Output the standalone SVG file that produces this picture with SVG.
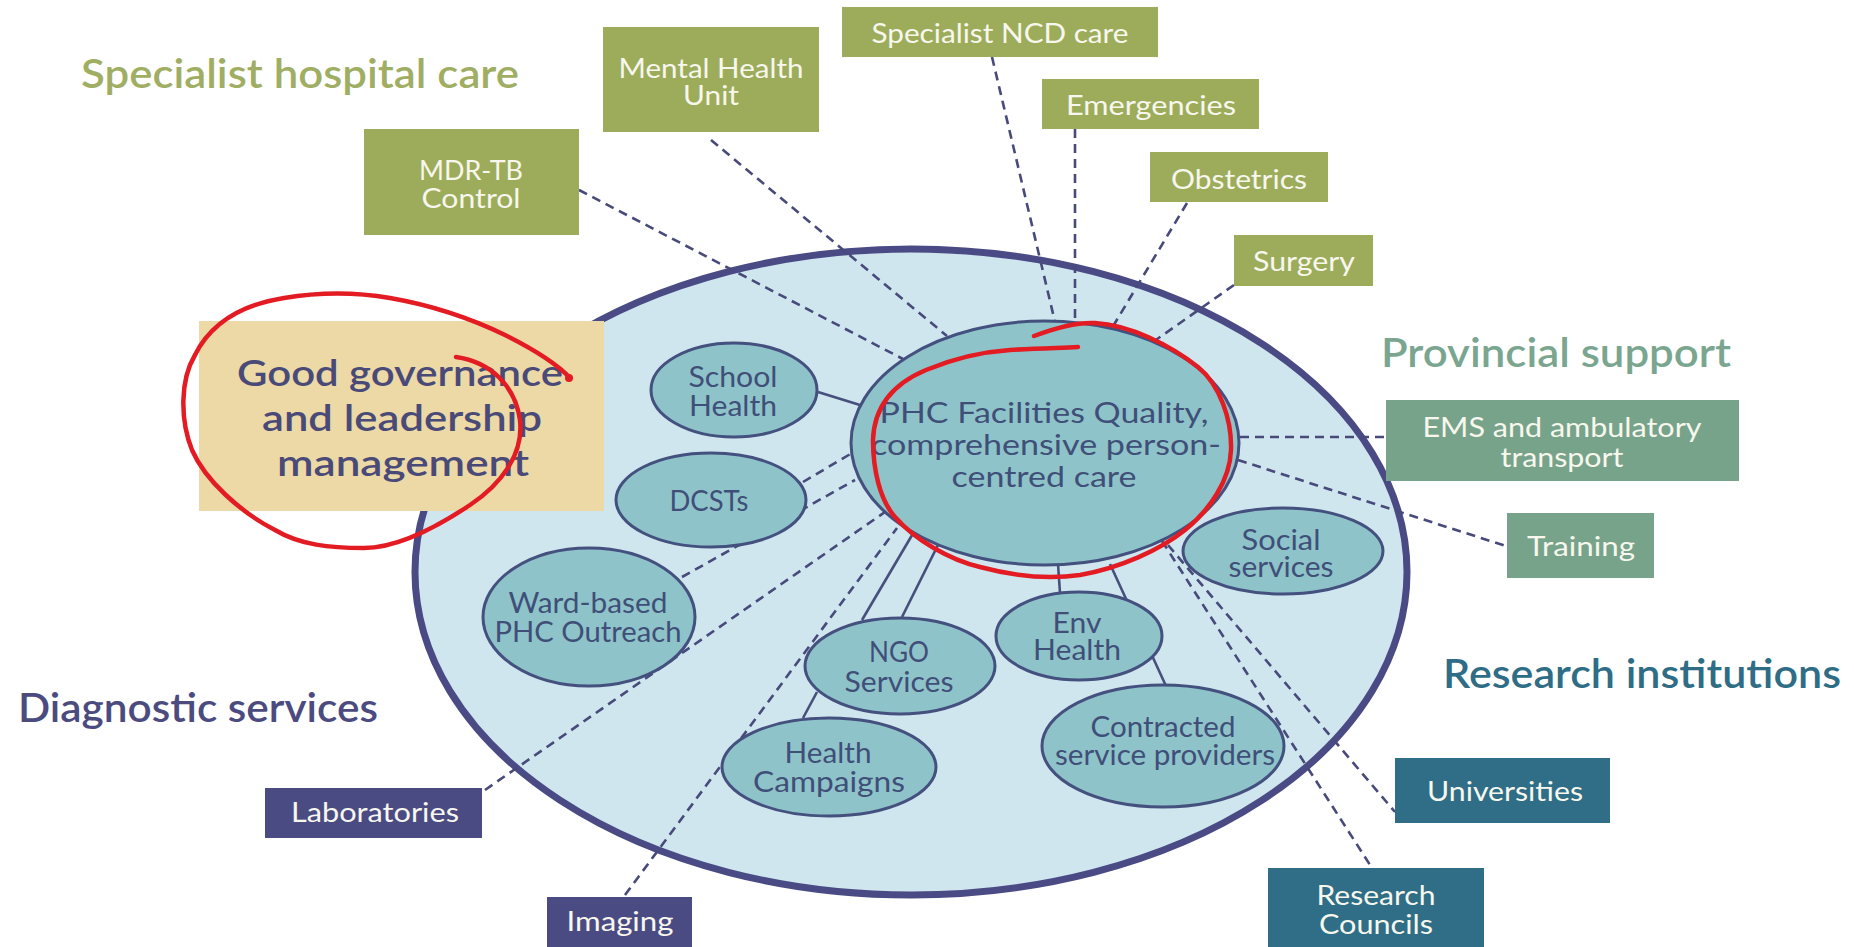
<svg xmlns="http://www.w3.org/2000/svg" width="1854" height="947" viewBox="0 0 1854 947">
<style>
.title{font-family:Lato,"Liberation Sans",sans-serif;font-size:40px;font-weight:600;text-anchor:start}
.gov{font-family:Lato,"Liberation Sans",sans-serif;font-size:37px;font-weight:600;fill:#4a4a78;text-anchor:middle}
.bt{font-family:Lato,"Liberation Sans",sans-serif;font-size:27px;fill:#f7f7ee;text-anchor:middle}
.it{font-family:Lato,"Liberation Sans",sans-serif;font-size:28px;fill:#3f4f78;text-anchor:middle}
.olive{fill:#9dac5a}
.sage{fill:#78a38b}
.teal{fill:#2f6e86}
.navy{fill:#4b4b83}
.inner{fill:#8fc3ca;stroke:#44507e;stroke-width:3}
.dash{fill:none;stroke:#474a7a;stroke-width:2.6;stroke-dasharray:9 6}
.solid{fill:none;stroke:#474f7c;stroke-width:2.6}
.red{fill:none;stroke:#e31b23;stroke-width:4.5;stroke-linecap:round;stroke-linejoin:round}
</style>
<rect width="1854" height="947" fill="#ffffff"/>

<g id="titles">
<text class="title" x="81" y="88" fill="#9fae62" textLength="438" lengthAdjust="spacingAndGlyphs">Specialist hospital care</text>
<text class="title" x="1381" y="367" fill="#7aa68f" textLength="350" lengthAdjust="spacingAndGlyphs">Provincial support</text>
<text class="title" x="1443" y="688" fill="#2e6d85" textLength="398" lengthAdjust="spacingAndGlyphs">Research institutions</text>
<text class="title" x="18" y="722" fill="#4b4b80" textLength="360" lengthAdjust="spacingAndGlyphs">Diagnostic services</text>
</g>

<g id="district">
<ellipse cx="911" cy="572" rx="496" ry="323" fill="#cfe6ef" stroke="#4a4a85" stroke-width="7"/>
</g>

<g id="connectors">
<line class="dash" x1="579" y1="190" x2="903" y2="359"/>
<line class="dash" x1="711" y1="140" x2="947" y2="336"/>
<line class="dash" x1="992" y1="57" x2="1055" y2="322"/>
<line class="dash" x1="1075" y1="129" x2="1075" y2="323"/>
<line class="dash" x1="1187" y1="203" x2="1112" y2="328"/>
<line class="dash" x1="1234" y1="285" x2="1153" y2="342"/>
<line class="dash" x1="1240" y1="437" x2="1386" y2="437"/>
<line class="dash" x1="1238" y1="460" x2="1506" y2="546"/>
<line class="dash" x1="1168" y1="545" x2="1395" y2="812"/>
<line class="dash" x1="1162" y1="541" x2="1372" y2="868"/>
<line class="dash" x1="485" y1="790" x2="885" y2="512"/>
<line class="dash" x1="682" y1="577" x2="855" y2="480"/>
<line class="dash" x1="803" y1="482" x2="852" y2="453"/>
<line class="dash" x1="625" y1="895" x2="897" y2="528"/>
<line class="solid" x1="818" y1="392" x2="860" y2="405"/>
<line class="solid" x1="862" y1="620" x2="918" y2="525"/>
<line class="solid" x1="902" y1="617" x2="938" y2="545"/>
<line class="solid" x1="817" y1="692" x2="803" y2="718"/>
<line class="solid" x1="1058" y1="564" x2="1060" y2="593"/>
<line class="solid" x1="1110" y1="564" x2="1166" y2="686"/>
</g>

<g id="phc">
<ellipse class="inner" cx="1045" cy="443" rx="194" ry="122"/>
<text class="it" font-size="31" x="1044" y="423" textLength="329" lengthAdjust="spacingAndGlyphs">PHC Facilities Quality,</text>
<text class="it" font-size="31" x="1046" y="455" textLength="350" lengthAdjust="spacingAndGlyphs">comprehensive person-</text>
<text class="it" font-size="31" x="1044" y="487" textLength="185" lengthAdjust="spacingAndGlyphs">centred care</text>
</g>

<g id="school-health">
<ellipse class="inner" cx="734" cy="390" rx="83" ry="47"/>
<text class="it" x="733" y="387" textLength="89" lengthAdjust="spacingAndGlyphs">School</text>
<text class="it" x="733" y="416" textLength="88" lengthAdjust="spacingAndGlyphs">Health</text>
</g>

<g id="dcsts">
<ellipse class="inner" cx="711" cy="500" rx="95" ry="47"/>
<text class="it" x="709" y="511" textLength="79" lengthAdjust="spacingAndGlyphs">DCSTs</text>
</g>

<g id="ward-based">
<ellipse class="inner" cx="589" cy="617" rx="106" ry="69"/>
<text class="it" x="588" y="613" textLength="159" lengthAdjust="spacingAndGlyphs">Ward-based</text>
<text class="it" x="588" y="642" textLength="187" lengthAdjust="spacingAndGlyphs">PHC Outreach</text>
</g>

<g id="social-services">
<ellipse class="inner" cx="1283" cy="551" rx="100" ry="43"/>
<text class="it" x="1281" y="550" textLength="79" lengthAdjust="spacingAndGlyphs">Social</text>
<text class="it" x="1281" y="577" textLength="105" lengthAdjust="spacingAndGlyphs">services</text>
</g>

<g id="env-health">
<ellipse class="inner" cx="1079" cy="636" rx="83" ry="44"/>
<text class="it" x="1077" y="633" textLength="49" lengthAdjust="spacingAndGlyphs">Env</text>
<text class="it" x="1077" y="660" textLength="88" lengthAdjust="spacingAndGlyphs">Health</text>
</g>

<g id="ngo-services">
<ellipse class="inner" cx="900" cy="666" rx="95" ry="48"/>
<text class="it" x="899" y="662" textLength="60" lengthAdjust="spacingAndGlyphs">NGO</text>
<text class="it" x="899" y="692" textLength="109" lengthAdjust="spacingAndGlyphs">Services</text>
</g>

<g id="health-campaigns">
<ellipse class="inner" cx="829" cy="767" rx="107" ry="49"/>
<text class="it" x="828" y="763" textLength="87" lengthAdjust="spacingAndGlyphs">Health</text>
<text class="it" x="829" y="792" textLength="152" lengthAdjust="spacingAndGlyphs">Campaigns</text>
</g>

<g id="contracted">
<ellipse class="inner" cx="1163" cy="746" rx="121" ry="61"/>
<text class="it" x="1163" y="737" textLength="145" lengthAdjust="spacingAndGlyphs">Contracted</text>
<text class="it" x="1165" y="765" textLength="220" lengthAdjust="spacingAndGlyphs">service providers</text>
</g>

<g id="mdr-tb">
<rect class="olive" x="364" y="129" width="215" height="106"/>
<text class="bt" x="471" y="180" textLength="104" lengthAdjust="spacingAndGlyphs">MDR-TB</text>
<text class="bt" x="471" y="208" textLength="99" lengthAdjust="spacingAndGlyphs">Control</text>
</g>

<g id="mental-health">
<rect class="olive" x="603" y="27" width="216" height="105"/>
<text class="bt" x="711" y="78" textLength="185" lengthAdjust="spacingAndGlyphs">Mental Health</text>
<text class="bt" x="711" y="105" textLength="56" lengthAdjust="spacingAndGlyphs">Unit</text>
</g>

<g id="ncd">
<rect class="olive" x="842" y="7" width="316" height="50"/>
<text class="bt" x="1000" y="43" textLength="257" lengthAdjust="spacingAndGlyphs">Specialist NCD care</text>
</g>

<g id="emergencies">
<rect class="olive" x="1042" y="79" width="217" height="50"/>
<text class="bt" x="1151" y="115" textLength="170" lengthAdjust="spacingAndGlyphs">Emergencies</text>
</g>

<g id="obstetrics">
<rect class="olive" x="1150" y="152" width="178" height="50"/>
<text class="bt" x="1239" y="189" textLength="136" lengthAdjust="spacingAndGlyphs">Obstetrics</text>
</g>

<g id="surgery">
<rect class="olive" x="1234" y="235" width="139" height="51"/>
<text class="bt" x="1304" y="271" textLength="102" lengthAdjust="spacingAndGlyphs">Surgery</text>
</g>

<g id="ems">
<rect class="sage" x="1386" y="400" width="353" height="81"/>
<text class="bt" x="1562" y="437" textLength="279" lengthAdjust="spacingAndGlyphs">EMS and ambulatory</text>
<text class="bt" x="1562" y="467" textLength="123" lengthAdjust="spacingAndGlyphs">transport</text>
</g>

<g id="training">
<rect class="sage" x="1507" y="513" width="147" height="65"/>
<text class="bt" x="1581" y="556" textLength="108" lengthAdjust="spacingAndGlyphs">Training</text>
</g>

<g id="universities">
<rect class="teal" x="1395" y="758" width="215" height="65"/>
<text class="bt" x="1505" y="801" textLength="156" lengthAdjust="spacingAndGlyphs">Universities</text>
</g>

<g id="research-councils">
<rect class="teal" x="1268" y="868" width="216" height="79"/>
<text class="bt" x="1376" y="905" textLength="119" lengthAdjust="spacingAndGlyphs">Research</text>
<text class="bt" x="1376" y="934" textLength="114" lengthAdjust="spacingAndGlyphs">Councils</text>
</g>

<g id="laboratories">
<rect class="navy" x="265" y="788" width="217" height="50"/>
<text class="bt" x="375" y="822" textLength="168" lengthAdjust="spacingAndGlyphs">Laboratories</text>
</g>

<g id="imaging">
<rect class="navy" x="547" y="897" width="145" height="50"/>
<text class="bt" x="620" y="931" textLength="107" lengthAdjust="spacingAndGlyphs">Imaging</text>
</g>

<g id="governance">
<rect x="199" y="321" width="405" height="190" fill="#ecd9a6"/>
<text class="gov" x="400" y="386" textLength="326" lengthAdjust="spacingAndGlyphs">Good governance</text>
<text class="gov" x="402" y="431" textLength="280" lengthAdjust="spacingAndGlyphs">and leadership</text>
<text class="gov" x="403" y="476" textLength="252" lengthAdjust="spacingAndGlyphs">management</text>
</g>

<g id="annotations">
<path class="red" d="M456,357 C490,362 515,385 520,420 C524,455 500,485 470,505 C440,525 400,548 364,548 C330,548 300,545 275,530 C240,512 205,480 192,450 C180,420 180,380 195,355 C210,325 240,305 284,298 C320,292 355,292 390,298 C430,305 470,318 505,335 C535,350 558,365 570,378"/>
<circle cx="569" cy="378" r="4" fill="#e31b23"/>
<path class="red" d="M1034,336 C1055,328 1075,322 1095,323 C1130,325 1170,345 1198,367 C1220,385 1232,420 1231,450 C1230,480 1210,510 1185,530 C1160,550 1120,568 1080,575 C1045,580 1010,575 980,567 C950,560 915,540 895,517 C880,500 873,470 873,440 C874,410 890,385 926,370 C950,360 980,352 1010,350 C1040,348 1060,348 1078,347"/>
</g>
</svg>
